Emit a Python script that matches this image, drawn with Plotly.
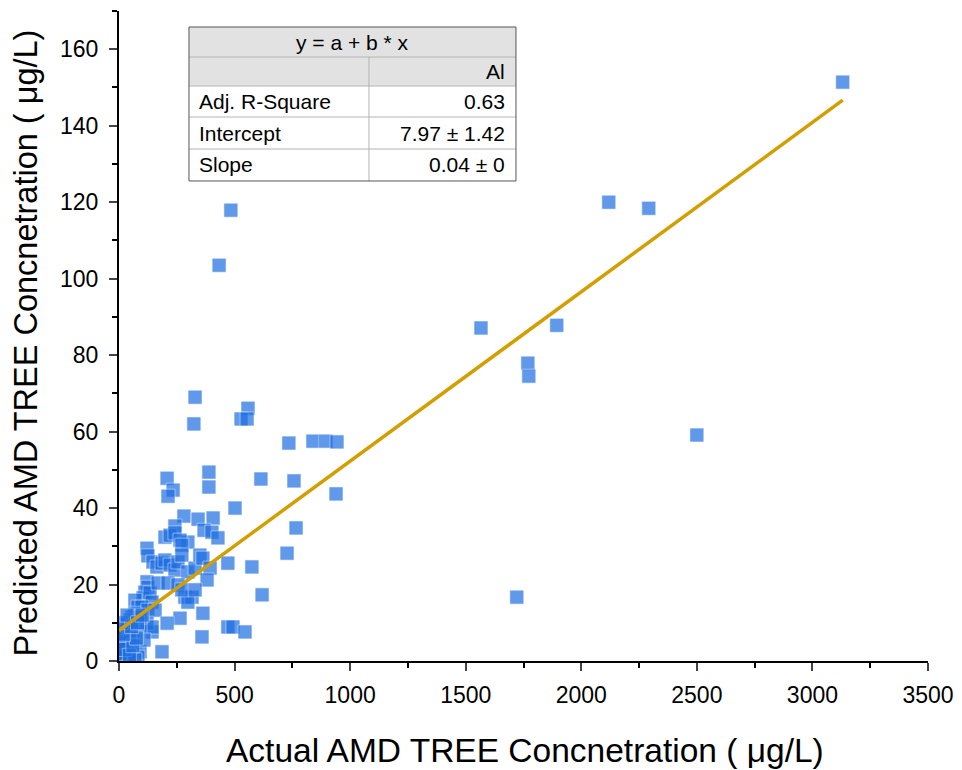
import plotly.graph_objects as go

# Actual vs predicted AMD TREE concentration (µg/L)
actual = [3131, 2119, 2292, 2500, 1894, 1769, 1773, 1566, 1721, 484,
          433, 329, 324, 558, 528, 554, 735, 839, 895, 943,
          389, 389, 614, 757, 939, 766, 727, 502, 208, 234,
          212, 281, 342, 407, 242, 199, 221, 242, 368, 402,
          428, 298, 264, 272, 121, 125, 147, 164, 186, 199,
          221, 242, 255, 272, 298, 329, 350, 363, 394, 471,
          575, 381, 121, 125, 112, 104, 134, 143, 169, 212,
          255, 285, 316, 298, 272, 329, 69, 82, 99, 69,
          56, 125, 156, 264, 363, 208, 143, 471, 493, 545,
          359, 186, 619, 121, 143, 48, 26, 39, 69, 91,
          39, 17, 82, 13, 9, 30, 52, 22, 61, 91,
          48, 108, 4, 9, 69, 35, 91,
          5, 15, 25, 45, 60, 75, 20, 10, 55, 35, 80, 100]
predicted = [151.4, 120.0, 118.4, 59.1, 87.8, 77.9, 74.5, 87.1, 16.7, 117.9,
             103.5, 69.0, 62.0, 66.1, 63.3, 63.3, 57.0, 57.5, 57.5, 57.3,
             49.4, 45.5, 47.6, 47.1, 43.7, 34.8, 28.2, 40.0, 47.8, 44.7,
             43.1, 37.9, 37.1, 37.4, 35.3, 32.4, 32.9, 33.5, 34.2, 33.7,
             32.2, 31.1, 31.6, 30.3, 29.5, 27.5, 25.9, 24.6, 25.6, 26.4,
             25.1, 23.8, 25.9, 27.7, 23.3, 24.3, 27.7, 26.9, 24.3, 25.6,
             24.6, 21.2, 20.7, 19.3, 18.0, 16.5, 17.8, 15.4, 20.4, 20.4,
             19.9, 16.7, 16.7, 15.4, 18.6, 18.6, 15.9, 14.1, 14.1, 12.5,
             11.5, 13.3, 13.3, 11.2, 12.5, 9.9, 7.6, 8.9, 8.9, 7.6,
             6.3, 2.4, 17.3, 9.9, 8.9, 10.7, 6.3, 4.7, 3.7, 2.4,
             2.1, 1.0, 1.0, 4.2, 2.4, 0.8, 0.8, 8.1, 8.1, 8.9,
             6.8, 5.5, 0.8, 3.4, 0.3, 9.4, 11.5,
             2.0, 5.0, 3.0, 1.5, 4.0, 6.0, 7.0, 10.0, 9.0, 12.0, 10.0, 12.0]

# Linear fit y = a + b * x
fit_intercept = 7.97
fit_slope = 0.0443

# Fit table text
table_title = "y = a + b * x"
table_series = "Al"
table_rows = ["Adj. R-Square", "Intercept", "Slope"]
table_values = ["0.63", "7.97 \u00b1 1.42", "0.04 \u00b1 0"]

x_ticks = [0, 500, 1000, 1500, 2000, 2500, 3000, 3500]
y_ticks = [0, 20, 40, 60, 80, 100, 120, 140, 160]
x_title = "Actual AMD TREE Concnetration ( \u03bcg/L)"
y_title = "Predicted AMD TREE Concnetration ( \u03bcg/L)"

FONT = "Liberation Sans, Arial, sans-serif"

fig = go.Figure()
fig.add_trace(go.Scatter(
    x=actual, y=predicted, mode="markers",
    marker=dict(symbol="square", size=14, color="rgb(30,110,225)", opacity=0.7,
                line=dict(width=1, color="rgba(255,255,255,0.6)")),
    showlegend=False, hoverinfo="x+y"))

x_end = max(actual)
fig.add_trace(go.Scatter(
    x=[0, x_end], y=[fit_intercept, fit_intercept + fit_slope * x_end],
    mode="lines", line=dict(color="#D29E00", width=3.5), showlegend=False))

# page body has an 8px margin, so the figure is sized to fit the 962x770 window
fig.update_layout(
    width=954, height=762,
    margin=dict(l=111, r=34, t=3, b=109),
    paper_bgcolor="white", plot_bgcolor="white",
    font=dict(family=FONT, color="black"),
)
fig.update_xaxes(
    range=[0, 3500], tickvals=x_ticks, ticks="outside", ticklen=8, tickwidth=1.5,
    showline=True, linecolor="black", linewidth=2, showgrid=False, zeroline=False,
    tickfont=dict(size=23), automargin=False, ticklabelstandoff=4,
    minor=dict(dtick=250, ticks="outside", ticklen=5, tickwidth=1.5, tickcolor="black", showgrid=False),
)
fig.update_yaxes(
    range=[0, 170], tickvals=y_ticks, ticks="outside", ticklen=8, tickwidth=1.5,
    showline=True, linecolor="black", linewidth=2, showgrid=False, zeroline=False,
    tickfont=dict(size=23), automargin=False, ticklabelstandoff=6,
    minor=dict(dtick=10, ticks="outside", ticklen=5, tickwidth=1.5, tickcolor="black", showgrid=False),
)

# Fit results table (paper coordinates)
x0, xm, x1 = 0.0865, 0.309, 0.4907
ys = [0.9754, 0.9292, 0.8846, 0.8369, 0.7877, 0.7385]
shapes = []
shapes.append(dict(type="rect", xref="paper", yref="paper", x0=x0, x1=x1, y0=ys[2], y1=ys[0],
                   fillcolor="#e2e2e2", line=dict(width=0), layer="above"))
shapes.append(dict(type="rect", xref="paper", yref="paper", x0=x0, x1=x1, y0=ys[5], y1=ys[2],
                   fillcolor="white", line=dict(width=0), layer="above"))
for yy in ys[1:5]:
    shapes.append(dict(type="line", xref="paper", yref="paper", x0=x0, x1=x1, y0=yy, y1=yy,
                       line=dict(color="#b4b4b4", width=1), layer="above"))
shapes.append(dict(type="line", xref="paper", yref="paper", x0=xm, x1=xm, y0=ys[5], y1=ys[1],
                   line=dict(color="#b4b4b4", width=1), layer="above"))
shapes.append(dict(type="rect", xref="paper", yref="paper", x0=x0, x1=x1, y0=ys[5], y1=ys[0],
                   line=dict(color="#555555", width=1), layer="above"))
fig.update_layout(shapes=shapes)

tf = dict(size=21, family=FONT, color="black")
ann = [dict(x=(x0 + x1) / 2, y=(ys[0] + ys[1]) / 2, text=table_title, xanchor="center"),
       dict(x=x1 - 0.011, y=(ys[1] + ys[2]) / 2, text=table_series, xanchor="right")]
for i, (r, v) in enumerate(zip(table_rows, table_values)):
    yc = (ys[2 + i] + ys[3 + i]) / 2
    ann.append(dict(x=x0 + 0.01, y=yc, text=r, xanchor="left"))
    ann.append(dict(x=x1 - 0.011, y=yc, text=v, xanchor="right"))
for a in ann:
    a.update(xref="paper", yref="paper", yanchor="middle", showarrow=False, font=tf)

# Axis titles
ann.append(dict(x=0.502, y=-0.137, xref="paper", yref="paper", xanchor="center", yanchor="middle",
                text=x_title, showarrow=False, font=dict(size=33.5, family=FONT, color="black")))
ann.append(dict(x=-0.115, y=0.49, xref="paper", yref="paper", xanchor="center", yanchor="middle",
                text=y_title, textangle=-90, showarrow=False,
                font=dict(size=32.5, family=FONT, color="black")))
fig.update_layout(annotations=ann)

fig.write_html("out.html")
